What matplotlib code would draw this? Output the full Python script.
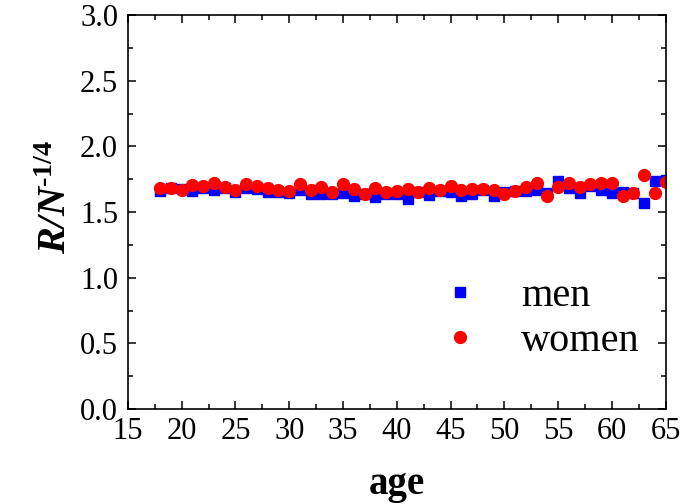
import numpy as np
from matplotlib import pyplot as plt
from matplotlib.ticker import MultipleLocator

plt.rcParams['font.family'] = ['Liberation Serif', 'DejaVu Serif']
plt.rcParams['mathtext.fontset'] = 'custom'
plt.rcParams['mathtext.rm'] = 'Liberation Serif'
plt.rcParams['mathtext.bf'] = 'Liberation Serif:bold'
plt.rcParams['mathtext.it'] = 'Liberation Serif:italic'
plt.rcParams['mathtext.bfit'] = 'Liberation Serif:italic:bold'

age = np.arange(18, 66)
men = [1.660, 1.686, 1.676, 1.660, 1.686, 1.668, 1.686, 1.656, 1.686, 1.676, 1.656, 1.656,
       1.648, 1.668, 1.638, 1.638, 1.636, 1.643, 1.625, 1.636, 1.612, 1.636, 1.636, 1.597,
       1.650, 1.630, 1.660, 1.655, 1.625, 1.636, 1.668, 1.625, 1.655, 1.660, 1.660, 1.668,
       1.642, 1.739, 1.680, 1.642, 1.698, 1.668, 1.647, 1.655, 1.647, 1.571, 1.740, 1.744]
women = [1.681, 1.681, 1.671, 1.704, 1.700, 1.719, 1.688, 1.668, 1.711, 1.696, 1.686, 1.668,
         1.660, 1.711, 1.665, 1.693, 1.650, 1.711, 1.673, 1.638, 1.686, 1.655, 1.660, 1.673,
         1.655, 1.681, 1.668, 1.701, 1.668, 1.676, 1.676, 1.668, 1.636, 1.660, 1.688, 1.719,
         1.622, 1.693, 1.723, 1.693, 1.711, 1.718, 1.718, 1.622, 1.642, 1.782, 1.647, 1.726]

fig = plt.figure(figsize=(6.8, 5.04), dpi=100)
ax = fig.add_axes([0.188, 0.1885, 0.791, 0.7815])

ax.plot(age, men, 's', color='blue', markersize=7.5, label='men')
ax.plot(age, women, 'o', color='red', markersize=8.5, label='women')

ax.set_xlim(15, 65)
ax.set_ylim(0, 3.0)
ax.xaxis.set_major_locator(MultipleLocator(5))
ax.xaxis.set_minor_locator(MultipleLocator(2.5))
ax.yaxis.set_major_locator(MultipleLocator(0.5))
ax.yaxis.set_minor_locator(MultipleLocator(0.25))
ax.yaxis.set_major_formatter(plt.FormatStrFormatter('%.1f'))
ax.tick_params(which='both', direction='in', top=True, right=True, width=1.1)
ax.tick_params(which='major', length=6, labelsize=22)
ax.tick_params(axis='x', which='major', pad=6)
ax.tick_params(axis='y', which='major', pad=7)
ax.tick_params(which='minor', length=3.5)
for s in ax.spines.values():
    s.set_linewidth(1.2)

ax.set_xlabel('age', fontsize=28, fontweight='bold', labelpad=14)
ax.set_ylabel('$\\mathbfit{R/N}^{\\mathbf{\u20101/4}}$', fontsize=29)
ax.yaxis.set_label_coords(-0.098, 0.54)

ax.legend(loc='center', bbox_to_anchor=(0.766, 0.228), frameon=False, fontsize=29,
          numpoints=1, handlelength=1.0, handletextpad=1.0, labelspacing=0.2)

plt.savefig('out.png')
